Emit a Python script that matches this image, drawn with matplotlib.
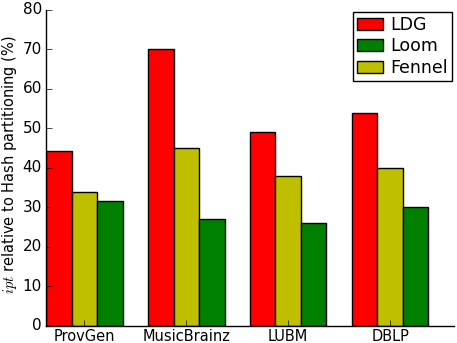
import numpy as np
import matplotlib
matplotlib.use('Agg')
import matplotlib.pyplot as plt

plt.style.use('classic')

datasets = ['ProvGen', 'MusicBrainz', 'LUBM', 'DBLP']
ldg = [44.3, 70, 49, 54]
fennel = [34, 45, 38, 40]
loom = [31.7, 27, 26, 30]

fig = plt.figure(figsize=(4.57, 3.43), dpi=100)
ax = fig.add_axes([0.101, 0.05, 0.892, 0.921])

x = np.arange(len(datasets))
w = 0.25
b1 = ax.bar(x, ldg, w, align='edge', color='r', label='LDG')
b3 = ax.bar(x + w, fennel, w, align='edge', color='y', label='Fennel')
b2 = ax.bar(x + 2 * w, loom, w, align='edge', color='g', label='Loom')

ax.set_xlim(0, 4)
ax.set_ylim(0, 80)
ax.set_xticks(x + 1.5 * w)
ax.set_xticklabels(datasets)
ax.set_yticks(range(0, 81, 10))
ax.tick_params(axis='y', labelsize=11, pad=3)
ax.tick_params(axis='x', labelsize=10.5, pad=2)
ax.spines['top'].set_visible(False)
ax.spines['right'].set_visible(False)
ax.xaxis.set_ticks_position('bottom')
ax.yaxis.set_ticks_position('left')
ax.set_ylabel('$ipt$ relative to Hash partitioning (%)', fontsize=10.5)
ax.yaxis.set_label_coords(-0.066, 0.51)

ax.legend([b1, b2, b3], ['LDG', 'Loom', 'Fennel'], loc='upper right', fontsize=12.5,
          handlelength=1.5, handletextpad=0.4, labelspacing=0.2, borderpad=0.25,
          borderaxespad=0.1)

fig.savefig('out.png', dpi=100)
